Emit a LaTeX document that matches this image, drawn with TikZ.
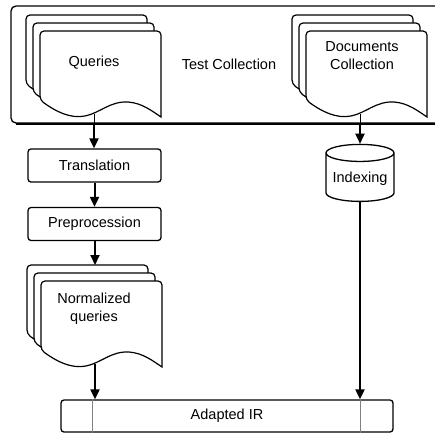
\documentclass[tikz,border=0pt]{standalone}
\usepackage{fontspec}
\setmainfont{Liberation Sans}
\usetikzlibrary{arrows.meta,calc,positioning,shapes.geometric}

\tikzset{
  page/.style={draw,fill=white,line width=1.2pt},
  stepbox/.style={draw,line width=1.3pt,rounded corners=3pt,minimum width=133pt,minimum height=33pt},
  flow/.style={-{Triangle[length=10pt,width=9pt]},line width=2pt},
  % three stacked sheets, origin = top left corner of the front sheet
  docstack/.pic={
    \foreach \s in {2,1,0}
      \draw[page,shift={(-7*\s,-8*\s)}] (121,86) [rounded corners=4pt] -- (121,0) -- (0,0) -- (0,69)
        [sharp corners] .. controls (15,80) and (30,88) .. (45,85)
        .. controls (60,82) and (70,70) .. (88,71)
        .. controls (102,72) and (112,80) .. cycle;
    \coordinate (-top) at (54,-16);
    \coordinate (-out) at (54,83);
  }
}

\begin{document}
\begin{tikzpicture}[x=1pt,y=-1pt,font=\fontsize{14.5}{18}\selectfont]
  \useasboundingbox (0,0) rectangle (435,434);

  % test collection frame
  \node[draw,line width=1.3pt,rounded corners=5pt,minimum width=436pt,minimum height=117pt] (tc) at (229,64.5) {Test Collection};
  \draw[line width=2.2pt] ($(tc.south west)+(6,0)$) -- (tc.south east);
  \pic (qry) at (40,31) {docstack};
  \pic (doc) at (306,31) {docstack};
  \node (q) at (94,63) {Queries};
  \node[align=center] (d) at (362,56) {Documents\\Collection};

  % query side
  \node[stepbox] (tr) at (94.5,165.5) {Translation};
  \node[stepbox] (pp) at (94.5,224) {Preprocession};
  \pic (nq) at (41,281) {docstack};
  \node[align=center] (n) at (94,309) {Normalized\\queries};

  % document side
  \node[draw,cylinder,shape border rotate=90,aspect=0.3,line width=1.3pt,
        minimum width=68pt,minimum height=57pt,inner sep=1pt] (idx) at (360,178.5) {Indexing};

  % adapted IR
  \node[draw,line width=1.3pt,rounded corners=3pt,minimum width=332pt,minimum height=32pt] (ir) at (227,416) {Adapted IR};
  \draw[gray,thin] ($(ir.north west)+(32,0)$) -- ($(ir.south west)+(32,0)$);
  \draw[gray,thin] ($(ir.north east)+(-33,0)$) -- ($(ir.south east)+(-33,0)$);

  \draw[thin] (qry-out) -- (qry-out |- tc.south);
  \draw[flow] (qry-out |- tc.south) -- (qry-out |- tr.north);
  \draw[flow] (tr) -- (pp);
  \draw[flow] (pp.south -| nq-top) -- (nq-top);
  \draw[flow] (nq-out) -- (nq-out |- ir.north);
  \draw[thin] (doc-out) -- (doc-out |- tc.south);
  \draw[flow] (doc-out |- tc.south) -- (doc-out |- idx.north);
  \draw[flow] (idx.south) -- (idx.south |- ir.north);
\end{tikzpicture}
\end{document}
